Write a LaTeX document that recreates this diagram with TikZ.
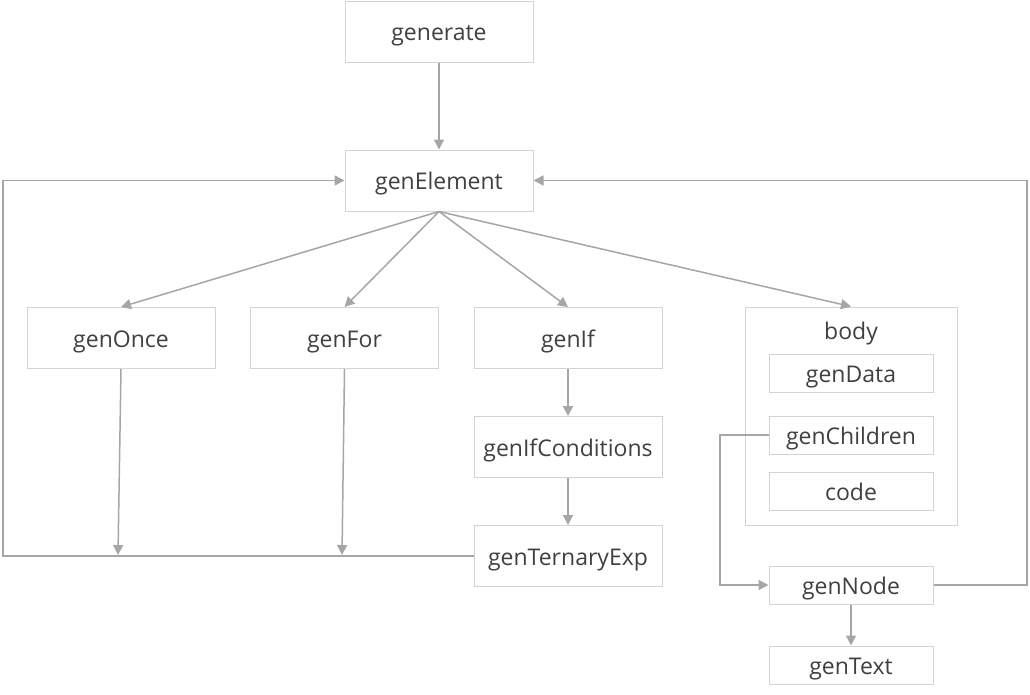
\documentclass[tikz,border=0pt]{standalone}
\usepackage{fontspec}
\setmainfont{Open Sans}
\usetikzlibrary{arrows.meta}
\definecolor{boxline}{HTML}{D4D4D4}
\definecolor{arrowc}{HTML}{A6A6A6}
\definecolor{txt}{HTML}{404040}
\tikzset{
  lbl/.style={text=txt, inner sep=0pt, font=\fontsize{23}{27}\selectfont, text height=22pt, text depth=4pt},
  box/.style={lbl, draw=boxline, line width=1pt, fill=white},
  big/.style={box, minimum width=188pt, minimum height=61pt},
  small/.style={box, minimum width=164pt, minimum height=38pt},
  conn/.style={draw=arrowc, line width=1.5pt},
  arr/.style={conn, -{Triangle[length=10pt,width=10pt]}},
}
\begin{document}
\begin{tikzpicture}[x=1pt,y=-1pt]
\useasboundingbox (0,0) rectangle (1030,694);
% body container
\node[box, minimum width=212pt, minimum height=218pt] (body) at (851,416) {};
\node[lbl] (bodylbl) at (851,330) {body};

\node[big] (generate) at (439,31.5) {generate};
\node[big] (genElement) at (439,180.5) {genElement};
\node[big] (genOnce) at (121,338) {genOnce};
\node[big] (genFor) at (344.5,338) {genFor};
\node[big] (genIf) at (568,338) {genIf};
\node[big] (genIfConditions) at (568,447) {genIfConditions};
\node[big] (genTernaryExp) at (568,556) {genTernaryExp};

\node[small] (genData) at (851,373) {genData};
\node[small] (genChildren) at (851,435) {genChildren};
\node[small] (code) at (851,491) {code};
\node[small] (genNode) at (851,585) {genNode};
\node[small] (genText) at (851,665) {genText};

\coordinate (onceEnd) at (118,555);
\coordinate (forEnd) at (342,555);

% connectors
\draw[arr] (generate) -- (genElement);
\draw[arr] (genElement.south) -- (genOnce.north);
\draw[arr] (genElement.south) -- (genFor.north);
\draw[arr] (genElement.south) -- (genIf.north);
\draw[arr] (genElement.south) -- (body.north);
\draw[arr] (genIf) -- (genIfConditions);
\draw[arr] (genIfConditions) -- (genTernaryExp);
\draw[arr] (genOnce.south) -- (onceEnd);
\draw[arr] (genFor.south) -- (forEnd);
\draw[arr] (genTernaryExp.west) -- (3,556) -- (3,180.5) -- (genElement.west);
\draw[arr] (genChildren.west) -- (720,435) -- (720,585) -- (genNode.west);
\draw[arr] (genNode.east) -- (1027,585) -- (1027,180.5) -- (genElement.east);
\draw[arr] (genNode) -- (genText);
\end{tikzpicture}
\end{document}
